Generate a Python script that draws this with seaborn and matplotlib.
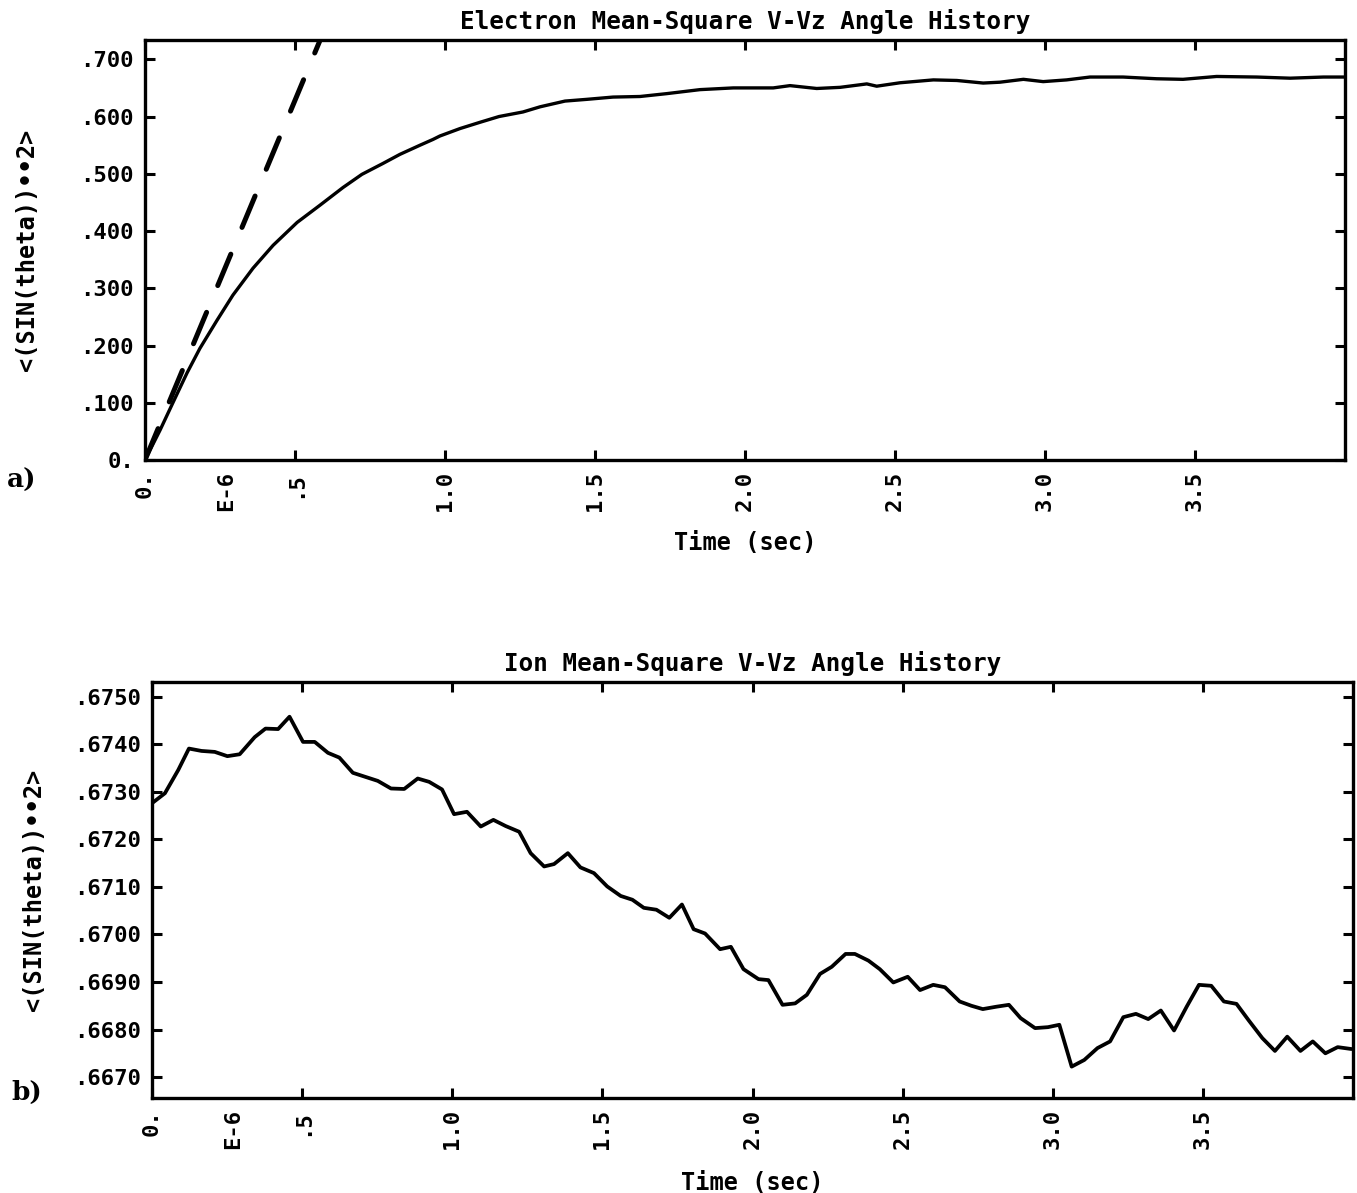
import numpy as np
import pandas as pd
import matplotlib
matplotlib.use("Agg")
import matplotlib.pyplot as plt
import seaborn as sns
from matplotlib.ticker import FixedLocator

# ---------------- data ----------------
electron_t = [0.0, 0.05, 0.093, 0.14, 0.183, 0.24, 0.293, 0.36, 0.427, 0.507,
              0.583, 0.66, 0.723, 0.793, 0.85, 0.917, 0.96, 0.983, 1.05, 1.117,
              1.18, 1.26, 1.317, 1.40, 1.472, 1.56, 1.65, 1.739, 1.85, 1.961,
              2.094, 2.15, 2.239, 2.317, 2.406, 2.439, 2.517, 2.628, 2.706,
              2.794, 2.85, 2.928, 2.994, 3.072, 3.15, 3.26, 3.372, 3.46, 3.572,
              3.706, 3.817, 3.928, 4.0]
electron_y = [0.0, 0.052, 0.100, 0.152, 0.195, 0.244, 0.288, 0.335, 0.375, 0.415,
              0.445, 0.476, 0.499, 0.518, 0.534, 0.550, 0.560, 0.566, 0.579, 0.590,
              0.600, 0.608, 0.617, 0.627, 0.630, 0.634, 0.635, 0.640, 0.647, 0.650,
              0.650, 0.654, 0.649, 0.651, 0.657, 0.653, 0.659, 0.664, 0.663,
              0.6585, 0.660, 0.665, 0.661, 0.664, 0.669, 0.669, 0.666, 0.665, 0.670,
              0.669, 0.667, 0.669, 0.669]

initial_slope_t = [0.0, 0.60]
initial_slope_y = [0.0, 0.754]

ion_t = [0.0, 0.043, 0.0875, 0.123, 0.165, 0.209, 0.251, 0.292, 0.342, 0.378,
         0.420, 0.458, 0.503, 0.542, 0.586, 0.624, 0.669, 0.708, 0.752, 0.796,
         0.840, 0.885, 0.923, 0.966, 1.006, 1.049, 1.095, 1.137, 1.178, 1.223,
         1.261, 1.306, 1.339, 1.385, 1.427, 1.472, 1.516, 1.561, 1.600, 1.638,
         1.680, 1.723, 1.765, 1.804, 1.842, 1.892, 1.928, 1.970, 2.020, 2.053,
         2.100, 2.142, 2.181, 2.225, 2.264, 2.310, 2.341, 2.386, 2.424, 2.469,
         2.517, 2.558, 2.602, 2.641, 2.690, 2.729, 2.767, 2.812, 2.854, 2.893,
         2.941, 2.984, 3.022, 3.063, 3.105, 3.149, 3.191, 3.235, 3.277, 3.318,
         3.360, 3.404, 3.446, 3.487, 3.528, 3.570, 3.612, 3.653, 3.698, 3.740,
         3.781, 3.825, 3.866, 3.908, 3.949, 3.995]
ion_y = [0.67276, 0.67297, 0.67346, 0.67391, 0.67386, 0.67384, 0.67375, 0.67379,
         0.67415, 0.67433, 0.67432, 0.67458, 0.67405, 0.67405, 0.67382, 0.67372,
         0.67340, 0.67332, 0.67323, 0.67307, 0.67306, 0.67328, 0.67321, 0.67305,
         0.67253, 0.67258, 0.67227, 0.67241, 0.67228, 0.67216, 0.67171, 0.67143,
         0.67148, 0.67171, 0.67141, 0.67129, 0.67101, 0.67081, 0.67073, 0.67056,
         0.67052, 0.67035, 0.67063, 0.67011, 0.67002, 0.66969, 0.66974, 0.66927,
         0.66906, 0.66904, 0.66852, 0.66855, 0.66873, 0.66917, 0.66932, 0.66959,
         0.66959, 0.66945, 0.66927, 0.66899, 0.66911, 0.66883, 0.66894, 0.66889,
         0.66859, 0.66850, 0.66843, 0.66848, 0.66852, 0.66824, 0.66803, 0.66805,
         0.66810, 0.66722, 0.66736, 0.66761, 0.66775, 0.66826, 0.66833, 0.66822,
         0.66840, 0.66798, 0.66848, 0.66894, 0.66892, 0.66859, 0.66854, 0.66819,
         0.66782, 0.66755, 0.66785, 0.66755, 0.66775, 0.66750, 0.66763, 0.66759]

x_ticks = [0.0, 0.5, 1.0, 1.5, 2.0, 2.5, 3.0, 3.5]
x_ticklabels = ["0.", ".5", "1.0", "1.5", "2.0", "2.5", "3.0", "3.5"]
exponent_pos = [0.27]
exponent_label = ["E-6"]

top_yticks = [0.0, 0.1, 0.2, 0.3, 0.4, 0.5, 0.6, 0.7]
top_yticklabels = ["0.", ".100", ".200", ".300", ".400", ".500", ".600", ".700"]
bot_yticks = [0.6670, 0.6680, 0.6690, 0.6700, 0.6710, 0.6720, 0.6730, 0.6740, 0.6750]
bot_yticklabels = [".6670", ".6680", ".6690", ".6700", ".6710", ".6720", ".6730", ".6740", ".6750"]

top_title = "Electron Mean-Square V-Vz Angle History"
bot_title = "Ion Mean-Square V-Vz Angle History"
x_label = "Time (sec)"
y_label = "<(SIN(theta))\u2022\u20222>"

# ---------------- style ----------------
sns.set_style("ticks")
plt.rcParams["font.family"] = ["DejaVu Sans Mono", "DejaVu Sans"]
plt.rcParams["font.weight"] = "bold"
for key in ["text.color", "axes.labelcolor", "xtick.color", "ytick.color",
            "axes.edgecolor", "xtick.labelcolor", "ytick.labelcolor"]:
    plt.rcParams[key] = "black"

W, H = 1357, 1193
fig = plt.figure(figsize=(W / 100, H / 100), dpi=100)
fig.patch.set_facecolor("white")

ax1 = fig.add_axes([145 / W, 1 - 460 / H, 1200 / W, 420 / H])
ax2 = fig.add_axes([152 / W, 1 - 1098 / H, 1201 / W, 416 / H])

df_e = pd.DataFrame({"t": electron_t, "v": electron_y})
df_s = pd.DataFrame({"t": initial_slope_t, "v": initial_slope_y})
df_i = pd.DataFrame({"t": ion_t, "v": ion_y})

sns.lineplot(data=df_e, x="t", y="v", ax=ax1, color="black", lw=2.4,
             estimator=None, sort=False)
ax1.lines[-1].set_solid_joinstyle("round")
sns.lineplot(data=df_s, x="t", y="v", ax=ax1, color="black", lw=3.6,
             estimator=None, sort=False)
dl = ax1.lines[-1]
dl.set_linestyle((0, (6.8, 5.8)))
dl.set_dash_capstyle("round")

sns.lineplot(data=df_i, x="t", y="v", ax=ax2, color="black", lw=2.7,
             estimator=None, sort=False)
ax2.lines[-1].set_solid_joinstyle("round")

ax1.set_ylim(0.0, 0.7337)
ax2.set_ylim(0.66656, 0.67531)

for ax, yt, ytl, title in [(ax1, top_yticks, top_yticklabels, top_title),
                           (ax2, bot_yticks, bot_yticklabels, bot_title)]:
    ax.set_xlim(0.0, 4.0)
    ax.xaxis.set_major_locator(FixedLocator(x_ticks))
    ax.set_xticklabels(x_ticklabels, rotation=90, fontsize=16, fontweight="bold",
                       color="black")
    ax.xaxis.set_minor_locator(FixedLocator(exponent_pos))
    ax.set_xticklabels(exponent_label, minor=True, rotation=90, fontsize=16,
                       fontweight="bold", color="black")
    ax.tick_params(axis="x", which="minor", length=0, pad=8)
    ax.yaxis.set_major_locator(FixedLocator(yt))
    ax.set_yticklabels(ytl, fontsize=16, fontweight="bold", color="black")
    ax.tick_params(which="major", direction="in", length=7, width=2.2,
                   top=True, right=True, color="black", pad=8)
    for s in ax.spines.values():
        s.set_linewidth(2.4)
        s.set_color("black")
        s.set_visible(True)
    ax.set_title(title, fontsize=17.5, fontweight="bold", pad=8, color="black")
    ax.set_xlabel(x_label, fontsize=17, fontweight="bold", color="black")
    ax.set_ylabel(y_label, fontsize=17, fontweight="bold", color="black")
    ax.yaxis.set_label_coords(-0.088, 0.5)
    ax.grid(False)

ax1.xaxis.set_label_coords(0.5, -0.17)
ax2.xaxis.set_label_coords(0.5, -0.175)

fig.text(7 / W, 1 - 480 / H, "a)", fontsize=19, fontweight="bold",
         family="DejaVu Serif", ha="left", va="center", color="black")
fig.text(11 / W, 1 - 1092 / H, "b)", fontsize=19, fontweight="bold",
         family="DejaVu Serif", ha="left", va="center", color="black")

fig.savefig("out.png", dpi=100, facecolor="white")
